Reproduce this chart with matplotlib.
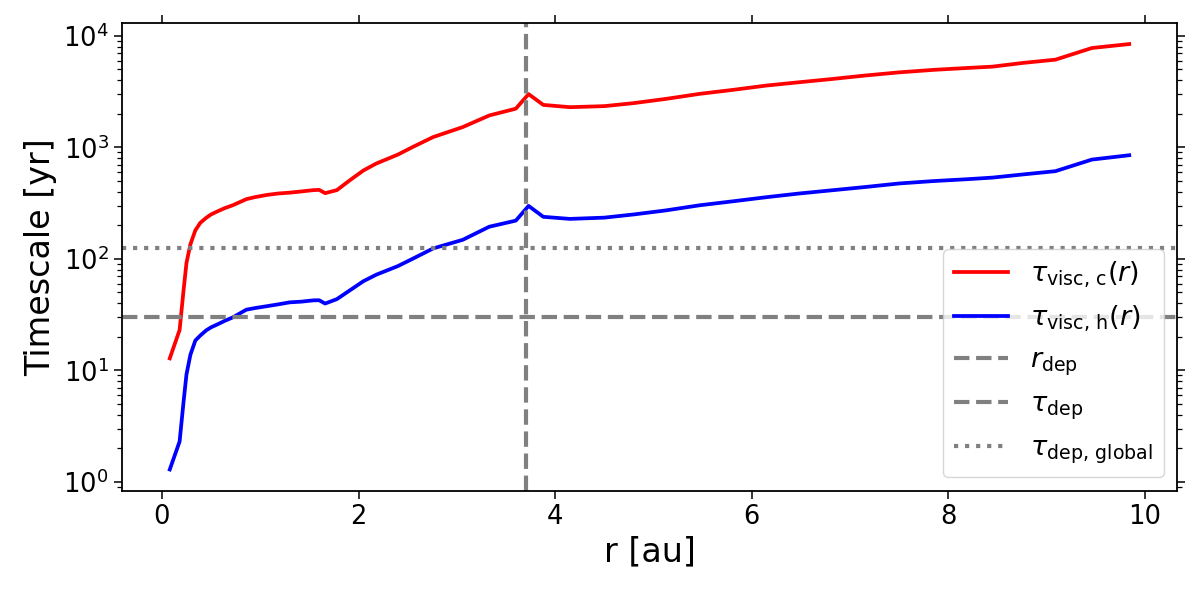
import matplotlib.pyplot as plt

# radius grid [au]
r = [0.08, 0.18, 0.22, 0.25, 0.29, 0.34, 0.39, 0.45, 0.50, 0.56, 0.64, 0.72, 0.86, 0.95,
     1.06, 1.18, 1.30, 1.42, 1.54, 1.60, 1.66, 1.78, 1.91, 2.05, 2.18, 2.40, 2.55, 2.76,
     3.06, 3.33, 3.60, 3.73, 3.88, 4.15, 4.50, 4.80, 5.13, 5.47, 5.81, 6.15, 6.48, 6.82,
     7.15, 7.50, 7.85, 8.20, 8.45, 8.75, 9.09, 9.46, 9.84]

tau_visc_c = [12.8, 23, 52, 92, 135, 180, 210, 233, 250, 265, 285, 302, 343, 358,
              373, 385, 392, 402, 413, 415, 388, 413, 505, 620, 715, 860, 1005, 1236,
              1518, 1930, 2220, 3000, 2400, 2290, 2340, 2490, 2720, 3015, 3275, 3580, 3830, 4100,
              4400, 4700, 4950, 5150, 5290, 5700, 6110, 7770, 8430]

tau_visc_h = [1.29, 2.3, 5.2, 9.2, 13.8, 18.5, 20.5, 22.8, 24.3, 25.7, 27.8, 29.8, 35, 36.2,
              37.5, 39.0, 40.7, 41.3, 42.4, 42.5, 39.7, 43.5, 52, 63, 72, 86, 100, 124,
              148, 194, 220, 298, 238, 228, 234, 250, 272, 302, 328, 357, 385, 412,
              440, 474, 498, 518, 535, 570, 611, 776, 849]

r_dep = 3.7
tau_dep = 30
tau_dep_global = 125

fig = plt.figure(figsize=(12, 5.92), dpi=100)
ax = fig.add_axes([0.1015, 0.171, 0.8795, 0.7905])

ax.plot(r, tau_visc_c, color="red", lw=2.7, label=r"$\tau_{\rm visc,\,c}(r)$")
ax.plot(r, tau_visc_h, color="blue", lw=2.7, label=r"$\tau_{\rm visc,\,h}(r)$")
ax.axvline(r_dep, color="gray", ls="--", lw=3, label=r"$r_{\rm dep}$")
ax.axhline(tau_dep, color="gray", ls="--", lw=3, label=r"$\tau_{\rm dep}$")
ax.axhline(tau_dep_global, color="gray", ls=":", lw=3, label=r"$\tau_{\rm dep,\,global}$")

ax.set_yscale("log")
ax.set_xlabel("r [au]", fontsize=24)
ax.set_ylabel("Timescale [yr]", fontsize=24)
ax.tick_params(which="both", top=True, right=True, direction="out", labelsize=18.5)
ax.tick_params(which="major", length=6, width=1.1)
ax.tick_params(which="minor", length=3.5, width=0.9)
for s in ax.spines.values():
    s.set_linewidth(1.3)

ax.legend(loc="lower right", fontsize=19.5)

plt.savefig("out.png")
